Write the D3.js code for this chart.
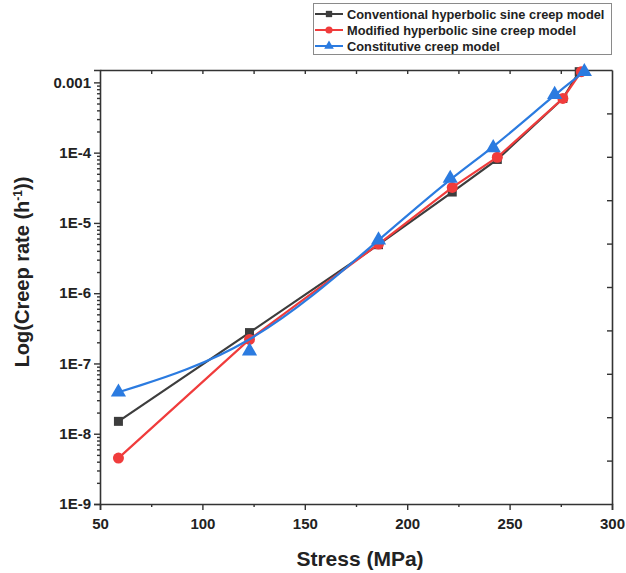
<!DOCTYPE html>
<html>
<head>
<meta charset="utf-8">
<script src="https://cdn.jsdelivr.net/npm/d3@7"></script>
<style>
    body { margin: 0; background: #fff; }
    svg { display: block; font-family: Arial, "Liberation Sans", sans-serif; }
</style>
</head>
<body>
<div id="chart"></div>
<script>
// values
const convStress = [59, 123, 186, 222, 244, 276, 284];
const convRate = [1.5e-8, 2.75e-7, 4.9e-6, 2.75e-5, 8.0e-5, 5.9e-4, 1.42e-3];

const modStress = [59, 123, 186, 222, 244, 276, 285];
const modRate = [4.5e-9, 2.2e-7, 5.0e-6, 3.2e-5, 8.6e-5, 5.9e-4, 1.42e-3];

const constStress = [59, 123, 186, 221, 242, 272, 286.5];
const constRate = [3.9e-8, 1.5e-7, 5.7e-6, 4.3e-5, 1.17e-4, 6.7e-4, 1.42e-3];

const seriesNames = [
    'Conventional hyperbolic sine creep model',
    'Modified hyperbolic sine creep model',
    'Constitutive creep model'
];
const xTicks = [50, 100, 150, 200, 250, 300];
const yTicks = [1e-9, 1e-8, 1e-7, 1e-6, 1e-5, 1e-4, 1e-3];
const yTickLabels = ['1E-9', '1E-8', '1E-7', '1E-6', '1E-5', '1E-4', '0.001'];

const width = 626, height = 573;
const margin = { top: 70, right: 14, bottom: 69, left: 100 };

const svg = d3.select('#chart').append('svg')
    .attr('width', width)
    .attr('height', height);

const x = d3.scaleLinear().domain([50, 300]).range([margin.left, width - margin.right]);
const y = d3.scaleLog().domain([1e-9, 1.5e-3]).range([height - margin.bottom, margin.top]);

const axisColor = '#333';
const series = [
    { name: seriesNames[0], xs: convStress, ys: convRate, color: '#3d3d3d', shape: d3.symbolSquare, size: 81, curve: d3.curveLinear },
    { name: seriesNames[1], xs: modStress, ys: modRate, color: '#f03c3c', shape: d3.symbolCircle, size: 95, curve: d3.curveLinear },
    { name: seriesNames[2], xs: constStress, ys: constRate, color: '#2b7be0', shape: d3.symbolTriangle, size: 100, curve: d3.curveBasis }
];

//____________________________________________________________
// axes
const minorY = [];
for (let e = -9; e <= -3; e++) {
    for (let m = 2; m <= 9; m++) {
        const v = m * Math.pow(10, e);
        if (v < 1.5e-3) minorY.push(v);
    }
}

const gLeft = svg.append('g').attr('transform', `translate(${margin.left},0)`);
gLeft.call(d3.axisLeft(y).tickValues(yTicks).tickFormat((d, i) => yTickLabels[i]).tickSize(6).tickPadding(3));
gLeft.append('g').call(d3.axisLeft(y).tickValues(minorY).tickFormat('').tickSize(3))
    .select('.domain').remove();

const gBottom = svg.append('g').attr('transform', `translate(0,${height - margin.bottom})`);
gBottom.call(d3.axisBottom(x).tickValues(xTicks).tickSize(6).tickPadding(8));
gBottom.append('g').call(d3.axisBottom(x).tickValues([75, 125, 175, 225, 275]).tickFormat('').tickSize(3))
    .select('.domain').remove();

const gTop = svg.append('g').attr('transform', `translate(0,${margin.top})`);
gTop.call(d3.axisBottom(x).tickValues(d3.range(75, 300, 25)).tickFormat('').tickSize(4).tickSizeOuter(0));

const yLin = d3.scaleLinear().domain([0, 10]).range(y.range());
const gRight = svg.append('g').attr('transform', `translate(${width - margin.right},0)`);
gRight.call(d3.axisLeft(yLin).tickValues(d3.range(1, 10)).tickFormat('').tickSize(5).tickSizeOuter(0));

svg.selectAll('.domain').attr('stroke', axisColor).attr('stroke-width', 1.6);
svg.selectAll('.tick line').attr('stroke', axisColor).attr('stroke-width', 1.4);
svg.selectAll('.tick text')
    .attr('fill', '#222')
    .style('font-size', '15px')
    .style('font-weight', 'bold')
    .style('font-family', 'Arial, "Liberation Sans", sans-serif');

// axis titles
svg.append('text')
    .attr('x', (margin.left + width - margin.right) / 2 + 4)
    .attr('y', 566)
    .attr('text-anchor', 'middle')
    .attr('fill', '#222')
    .style('font-size', '21px')
    .style('font-weight', 'bold')
    .text('Stress (MPa)');

const yTitle = svg.append('text')
    .attr('transform', `translate(29,${272}) rotate(-90)`)
    .attr('text-anchor', 'middle')
    .attr('fill', '#222')
    .style('font-size', '20px')
    .style('font-weight', 'bold');
yTitle.append('tspan').text('Log(Creep rate (h');
yTitle.append('tspan').attr('dy', -7).style('font-size', '12px').text('-1');
yTitle.append('tspan').attr('dy', 7).text('))');

//____________________________________________________________
// series
series.forEach(s => {
    const pts = s.xs.map((v, i) => [v, s.ys[i]]);
    const line = d3.line().x(d => x(d[0])).y(d => y(d[1])).curve(s.curve);

    svg.append('path')
        .datum(pts)
        .attr('fill', 'none')
        .attr('stroke', s.color)
        .attr('stroke-width', 2.2)
        .attr('d', line);

    svg.append('g')
        .selectAll('path')
        .data(pts)
        .join('path')
        .attr('transform', d => `translate(${x(d[0])},${y(d[1])})`)
        .attr('d', d3.symbol().type(s.shape).size(s.size))
        .attr('fill', s.color);
});

//____________________________________________________________
// legend
const legend = svg.append('g');
legend.append('rect')
    .attr('x', 313.5).attr('y', 3.5)
    .attr('width', 298).attr('height', 51)
    .attr('fill', '#fff')
    .attr('stroke', '#8a8a8a')
    .attr('stroke-width', 1);

series.forEach((s, i) => {
    const cy = 14 + i * 16;
    legend.append('line')
        .attr('x1', 315).attr('x2', 343)
        .attr('y1', cy).attr('y2', cy)
        .attr('stroke', s.color).attr('stroke-width', 2);
    legend.append('path')
        .attr('transform', `translate(329,${cy})`)
        .attr('d', d3.symbol().type(s.shape).size(40))
        .attr('fill', s.color);
    legend.append('text')
        .attr('x', 347).attr('y', cy + 4.5)
        .attr('fill', '#222')
        .style('font-size', '12.8px')
        .style('font-weight', 'bold')
        .text(s.name);
});
</script>
</body>
</html>
